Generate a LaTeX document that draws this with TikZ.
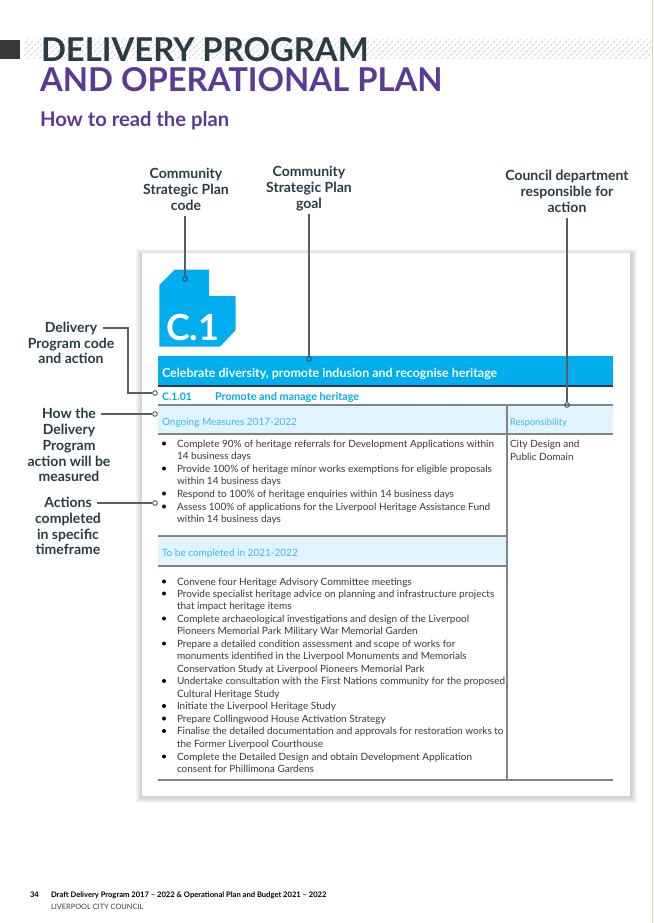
\documentclass[tikz,border=0pt]{standalone}
\usepackage{fontspec}
\setmainfont{Lato}
\definecolor{navy}{HTML}{2A3B44}
\definecolor{plum}{HTML}{5B3A96}
\definecolor{sky}{HTML}{00AEEF}
\definecolor{pale}{HTML}{E1F3FC}
\definecolor{rulec}{HTML}{7F8689}
\definecolor{lblue}{HTML}{3DB8F0}
\definecolor{bodyc}{HTML}{3A3A3A}
\definecolor{edgec}{HTML}{D3D6B4}
\tikzset{
  txt/.style={anchor=base west,inner sep=0pt,outer sep=0pt},
  callout/.style={anchor=center,inner sep=0pt,outer sep=2pt,text=navy,text height=10pt,text depth=3pt,
     font=\fontsize{14}{16}\selectfont\bfseries},
  bodyline/.style={txt,text=bodyc,font=\fontsize{10}{12}\selectfont},
  bulletdot/.style={circle,fill=black,inner sep=0pt,minimum size=4pt},
  enddot/.style={circle,draw=navy,line width=.8pt,fill=none,inner sep=0pt,minimum size=4.6pt},
  leader/.style={draw=rulec!70!black,line width=1.1pt},
  tablerule/.style={draw=rulec,line width=1.1pt},
}
\begin{document}
\begin{tikzpicture}[x=1pt,y=-1pt]
\useasboundingbox (0,0) rectangle (653,923);
\fill[white] (0,0) rectangle (653,923);
\fill[edgec] (652,0) rectangle (653,923);
% hatched band
\begin{scope}
\clip (24,40) rectangle (651,60);
\foreach \i in {0,6,...,660}
  \draw[black!22,line width=.5pt,dash pattern=on 3pt off 1.5pt] (\i,62) -- (\i+24,38);
\end{scope}
\fill[black!78] (0,40) rectangle (20,59);
% titles
\node[txt,text=navy,font=\fontsize{32.8}{36}\selectfont\bfseries] (t1) at (41,62) {DELIVERY PROGRAM};
\node[txt,text=plum,font=\fontsize{32.8}{36}\selectfont\bfseries] (t2) at (40,92) {AND OPERATIONAL PLAN};
\node[txt,text=plum,font=\fontsize{20.2}{24}\selectfont\bfseries] (t3) at (40,127) {How to read the plan};
% card
\foreach \i in {1,...,6}
  \fill[black,opacity=.03] (142-\i,253-\i+2) rectangle (630+\i+1,796+\i+1);
\fill[white] (142,253) rectangle (630,796);
% icon
\fill[sky] (159.3,285) -- (175,269.5) -- (209,269.5) -- (209,296) -- (235.7,296) -- (235.7,330) -- (220,346.7) -- (159.3,346.7) -- cycle;
\node[txt,text=white,font=\fontsize{36}{40}\selectfont\bfseries] (icontext) at (166,340) {C.1};
% table fills
\fill[sky] (158,356) rectangle (613,386);
\fill[pale] (158,405) rectangle (613,434);
\fill[pale] (158,536) rectangle (507,566);
% rules
\draw[tablerule,draw=navy] (158,386) -- (613,386);
\draw[tablerule] (158,405) -- (613,405);
\draw[tablerule] (158,434) -- (613,434);
\draw[tablerule] (158,536) -- (507,536);
\draw[tablerule] (158,566) -- (507,566);
\draw[tablerule] (158,780) -- (613,780);
\draw[tablerule] (507,405) -- (507,780);
% table text
\node[txt,text=white,font=\fontsize{12.45}{14}\selectfont\bfseries] (goal) at (162,377) {Celebrate diversity, promote indusion and recognise heritage};
\node[txt,text=sky,font=\fontsize{10.4}{12}\selectfont\bfseries] (code) at (162,400) {C.1.01};
\node[txt,text=sky,font=\fontsize{10.8}{12}\selectfont\bfseries] (action) at (215,400) {Promote and manage heritage};
\node[txt,text=lblue,font=\fontsize{10}{12}\selectfont] (ongoing) at (162,425) {Ongoing Measures 2017-2022};
\node[txt,text=lblue,font=\fontsize{9.4}{12}\selectfont] (resp) at (510,425) {Responsibility};
\node[bodyline] (dept1) at (510,447) {City Design and};
\node[bodyline] (dept2) at (510,460) {Public Domain};
\node[txt,text=lblue,font=\fontsize{10}{12}\selectfont] (tobe) at (162,556) {To be completed in 2021-2022};
% first list
\foreach \n/\y/\s in {
 a1/447/{Complete 90\% of heritage referrals for Development Applications within},
 a2/459/{14 business days},
 a3/472/{Provide 100\% of heritage minor works exemptions for eligible proposals},
 a4/484/{within 14 business days},
 a5/497/{Respond to 100\% of heritage enquiries within 14 business days},
 a6/510/{Assess 100\% of applications for the Liverpool Heritage Assistance Fund},
 a7/522/{within 14 business days}}
  \node[bodyline] (\n) at (177,\y) {\s};
\foreach \n/\y in {ab1/443.5,ab2/468.5,ab3/493.5,ab4/506.5}
  \node[bulletdot] (\n) at (164,\y) {};
% second list
\foreach \n/\y/\s in {
 b1/585/{Convene four Heritage Advisory Committee meetings},
 b2/597/{Provide specialist heritage advice on planning and infrastructure projects},
 b3/609/{that impact heritage items},
 b4/622/{Complete archaeological investigations and design of the Liverpool},
 b5/634/{Pioneers Memorial Park Military War Memorial Garden},
 b6/647/{Prepare a detailed condition assessment and scope of works for},
 b7/659/{monuments identified in the Liverpool Monuments and Memorials},
 b8/672/{Conservation Study at Liverpool Pioneers Memorial Park},
 b9/684/{Undertake consultation with the First Nations community for the proposed},
 b10/697/{Cultural Heritage Study},
 b11/709/{Initiate the Liverpool Heritage Study},
 b12/722/{Prepare Collingwood House Activation Strategy},
 b13/734/{Finalise the detailed documentation and approvals for restoration works to},
 b14/747/{the Former Liverpool Courthouse},
 b15/760/{Complete the Detailed Design and obtain Development Application},
 b16/772/{consent for Phillimona Gardens}}
  \node[bodyline] (\n) at (177,\y) {\s};
\foreach \n/\y in {bb1/581.5,bb2/593.5,bb3/618.5,bb4/643.5,bb5/681,bb6/706,bb7/718.5,bb8/731,bb9/756.5}
  \node[bulletdot] (\n) at (164,\y) {};
% callouts
\foreach \n/\x/\y/\s in {
 csa/186/175/Community, csb/186/191/Strategic Plan, csc/186/207/code,
 cga/309/173/Community, cgb/309/189/Strategic Plan, cgc/309/205/goal,
 cda/567/177/Council department, cdb/567/193/responsible for, cdc/567/209/action,
 dp1/71/329/Delivery, dp2/71/345/Program code, dp3/71/360/and action,
 hm1/69/415/How the, hm2/69/431/Delivery, hm3/69/447/Program, hm4/69/463/action will be, hm5/69/478/measured,
 ac1/68/504/Actions, ac2/68/520/completed, ac3/68/536/in specific, ac4/68/551/timeframe}
  \node[callout] (\n) at (\x,\y) {\s};
% end dots
\node[enddot] (d1) at (185,279) {};
\node[enddot] (d2) at (309,359) {};
\node[enddot] (d3) at (567,405) {};
\node[enddot] (d4) at (155,393) {};
\node[enddot] (d5) at (155,414) {};
\node[enddot] (d6) at (155,503) {};
% connectors
\draw[leader] (csc.south -| d1.north) -- (d1.north);
\draw[leader] (cgc.south -| d2.north) -- (d2.north);
\draw[leader] (cdc.south -| d3.north) -- (d3.north);
\draw[leader] (d4.west) -| (128,328) -- ([xshift=4pt]dp1.east |- 0,328);
\draw[leader] (d5.west) -- ([xshift=3pt]hm1.east |- d5.west);
\draw[leader] (d6.west) -- ([xshift=3pt]ac1.east |- d6.west);
% footer
\node[txt,text=black,font=\fontsize{7.6}{9}\selectfont\bfseries] (pg) at (30,897) {34};
\node[txt,text=black,font=\fontsize{7.6}{9}\selectfont\bfseries] (f1) at (51,897) {Draft Delivery Program 2017 – 2022 \& Operational Plan and Budget 2021 – 2022};
\node[txt,text=black!75,font=\fontsize{7.4}{9}\selectfont] (f2) at (51,909) {LIVERPOOL CITY COUNCIL};
\end{tikzpicture}
\end{document}
